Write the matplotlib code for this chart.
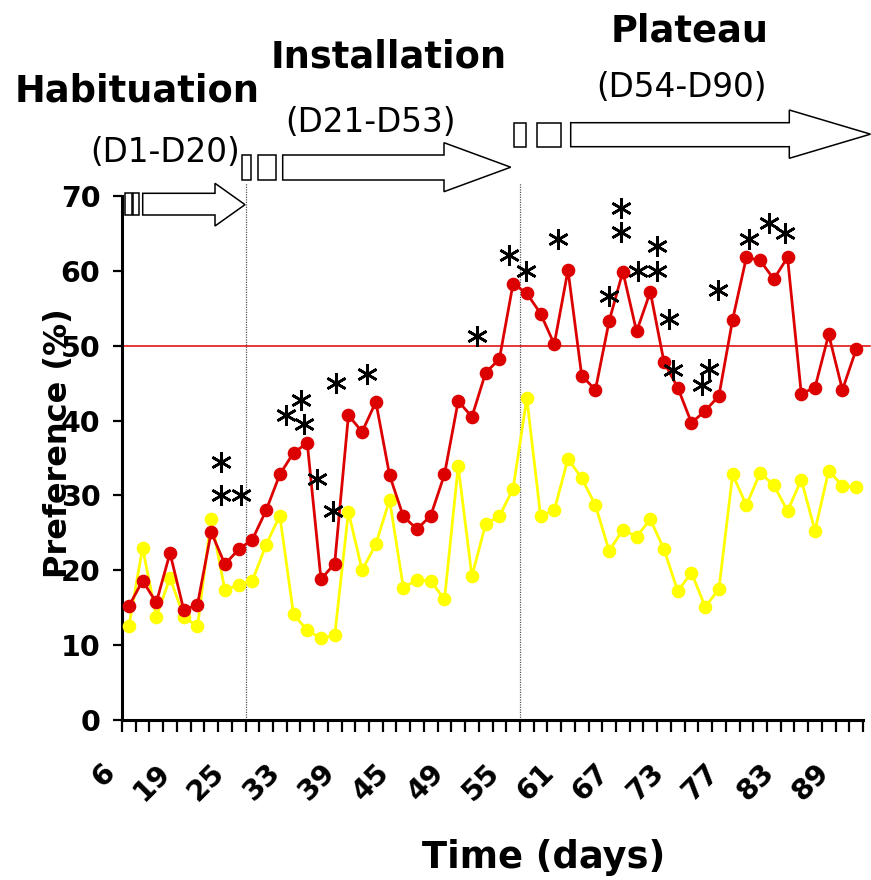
import numpy as np
import matplotlib
matplotlib.use("Agg")
import matplotlib.pyplot as plt
from matplotlib.patches import Polygon, Rectangle
from matplotlib.transforms import Affine2D, ScaledTranslation

# ---------------------------------------------------------------- data
# preference (%) per recording session, 54 sessions
treated = [15.2, 18.6, 15.7, 22.3, 14.7, 15.4, 25.1, 20.8, 22.8, 24.1,
           28.0, 32.8, 35.7, 37.0, 18.8, 20.9, 40.7, 38.5, 42.5, 32.7,
           27.2, 25.5, 27.3, 32.8, 42.6, 40.5, 46.4, 48.2, 58.3, 57.0,
           54.3, 50.2, 60.1, 46.0, 44.1, 53.3, 59.9, 51.9, 57.2, 47.8,
           44.4, 39.7, 41.3, 43.3, 53.5, 61.8, 61.4, 58.9, 61.8, 43.6,
           44.4, 51.5, 44.1, 49.5]
control = [12.5, 23.0, 13.8, 19.0, 13.8, 12.5, 26.9, 17.3, 18.1, 18.6,
           23.4, 27.3, 14.1, 12.0, 10.9, 11.3, 27.8, 20.0, 23.5, 29.4,
           17.7, 18.7, 18.6, 16.1, 33.9, 19.2, 26.2, 27.2, 30.9, 43.0,
           27.3, 28.0, 34.9, 32.3, 28.7, 22.6, 25.4, 24.5, 26.8, 22.8,
           17.2, 19.7, 15.1, 17.5, 32.8, 28.7, 33.0, 31.4, 27.9, 32.1,
           25.3, 33.3, 31.3, 31.1]
day_labels = ['6', '19', '25', '33', '39', '45', '49', '55', '61', '67',
              '73', '77', '83', '89']
chance_level = 50
phase_breaks = [9.5, 29.5]          # session boundaries between phases

# significance marks: (session position, preference level)
sig_x = [7.71, 7.71, 9.15, 12.43, 13.54, 13.79, 14.73, 15.90, 16.10, 18.33,
         26.39, 28.72, 29.92, 32.25, 35.99, 36.87, 36.87, 38.08, 39.47, 39.47,
         40.39, 40.63, 42.75, 43.30, 43.91, 46.21, 47.65, 48.82]
sig_y = [34.4, 30.1, 30.1, 40.7, 42.8, 39.5, 32.2, 27.9, 45.0, 46.2,
         51.3, 62.1, 60.0, 64.3, 56.6, 68.4, 65.2, 60.0, 63.3, 60.0,
         53.6, 46.8, 44.8, 46.9, 57.4, 64.3, 66.4, 65.1]

# ---------------------------------------------------------------- figure
W, H = 871, 880
fig = plt.figure(figsize=(W / 100, H / 100), dpi=100)
fig.patch.set_facecolor('white')
ax = fig.add_axes([122 / W, 1 - 720 / H, (863 - 122) / W, (720 - 196) / H])

RED = '#DD0000'
YEL = '#FFFF00'
sessions = np.arange(1, len(treated) + 1)

ax.plot(sessions, control, color=YEL, lw=2.0, marker='o', ms=8.8,
        mec=YEL, mfc=YEL, zorder=3, clip_on=False)
ax.plot(sessions, treated, color=RED, lw=2.0, marker='o', ms=8.8,
        mec=RED, mfc=RED, zorder=4, clip_on=False)

ax.axhline(chance_level, xmin=0, xmax=(870 - 122) / (863 - 122), color=RED,
           lw=1.1, zorder=2, clip_on=False)
for xb in phase_breaks:
    ax.plot([xb, xb], [0, 71.8], color='#555555', lw=0.9,
            ls=(0, (1, 1)), zorder=1, clip_on=False)

ax.plot(sig_x, sig_y, ls='none', marker=(6, 2, 0), ms=15, mew=1.9,
        color='black', zorder=5, clip_on=False)

ax.set_xlim(0.5, len(treated) + 0.5)
ax.set_ylim(0, 70)
for s in ('top', 'right'):
    ax.spines[s].set_visible(False)
for s in ('left', 'bottom'):
    ax.spines[s].set_linewidth(2.2)
    ax.spines[s].set_color('black')

ax.set_yticks(np.arange(0, 71, 10))
ax.tick_params(axis='y', direction='out', length=6.5, width=1.6,
               pad=9, labelsize=20.5)
for lab in ax.get_yticklabels():
    lab.set_fontweight('bold')

label_pos = sessions[::4]
ax.set_xticks(label_pos)
ax.set_xticklabels(day_labels, rotation=45, ha='right', va='center',
                   rotation_mode='anchor', fontsize=20.5, fontweight='bold')
ax.set_xticks(np.arange(0.5, len(treated) + 1, 1), minor=True)
ax.tick_params(axis='x', which='major', length=0, pad=34.5)
ax.tick_params(axis='x', which='minor', direction='out', length=8.5,
               width=1.6)
shift = ScaledTranslation(-18 / 100, 0, fig.dpi_scale_trans)
for lab in ax.get_xticklabels():
    lab.set_transform(lab.get_transform() + shift)

# ---------------------------------------------------------------- text
px = Affine2D().scale(1 / W, -1 / H).translate(0, 1) + fig.transFigure

fig.text(59, 443, 'Preference (%)', transform=px, rotation=90,
         ha='center', va='center', fontsize=23, fontweight='bold')
fig.text(544, 858, 'Time (days)', transform=px, ha='center', va='center',
         fontsize=26.5, fontweight='bold')

phase_titles = [('Habituation', 137.5, 101, '(D1-D20)', 165, 162),
                ('Installation', 389, 67, '(D21-D53)', 370, 132),
                ('Plateau', 689.5, 41, '(D54-D90)', 681, 97)]
for name, nx, ny, span, sx, sy in phase_titles:
    fig.text(nx, ny, name, transform=px, ha='center', va='baseline',
             fontsize=26.5, fontweight='bold')
    fig.text(sx, sy, span, transform=px, ha='center', va='baseline',
             fontsize=23.5)


def block_arrow(rects, x0, x1, tip, b_top, b_bot, h_top, h_bot):
    for rx0, rx1 in rects:
        fig.patches.append(Rectangle((rx0, b_top), rx1 - rx0, b_bot - b_top,
                                     transform=px, fill=False, ec='black',
                                     lw=1.1))
    mid = (h_top + h_bot) / 2
    pts = [(x0, b_top), (x1, b_top), (x1, h_top), (tip, mid),
           (x1, h_bot), (x1, b_bot), (x0, b_bot)]
    fig.patches.append(Polygon(pts, closed=True, transform=px, fc='white',
                               ec='black', lw=1.1))


block_arrow([(125, 131.7), (132.7, 139.3)], 142.7, 215, 245,
            193.3, 215, 183.3, 226)
block_arrow([(241.7, 250.7), (258.3, 275.7)], 282.7, 444, 510.7,
            155, 180, 142.7, 191.7)
block_arrow([(514, 525.7), (536.7, 560.7)], 570.7, 789.3, 870.5,
            122.7, 146.7, 110, 158.3)

fig.savefig('out.png', dpi=100, facecolor='white')
